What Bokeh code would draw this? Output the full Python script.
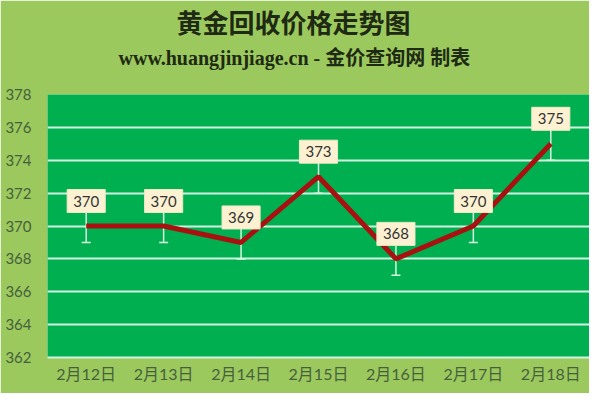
from bokeh.plotting import figure
from bokeh.models import FactorRange, Range1d, ColumnDataSource, Whisker, TeeHead, Title, FixedTicker
from bokeh.core.properties import value
from bokeh.embed import file_html
from bokeh.resources import INLINE

dates = ["2月12日", "2月13日", "2月14日", "2月15日", "2月16日", "2月17日", "2月18日"]
prices = [370, 370, 369, 373, 368, 370, 375]
err = [1, 1, 1, 1, 1, 1, 1]
y_ticks = [362, 364, 366, 368, 370, 372, 374, 376, 378]
title_text = "黄金回收价格走势图"
subtitle_text = "www.huangjinjiage.cn - 金价查询网 制表"

src = ColumnDataSource(dict(
    x=dates, y=prices,
    upper=[v + e for v, e in zip(prices, err)],
    lower=[v - e for v, e in zip(prices, err)],
    lab=[str(v) for v in prices],
))

p = figure(width=589, height=393, x_range=FactorRange(*dates), y_range=Range1d(362, 378),
           output_backend="svg", toolbar_location=None,
           min_border_left=47, min_border_right=0, min_border_top=89, min_border_bottom=36)
p.background_fill_color = "#00B050"
p.border_fill_color = "#9CC95E"
p.outline_line_color = None

# grid
p.xgrid.grid_line_color = None
p.ygrid.grid_line_color = "#D2F3DF"
p.ygrid.grid_line_width = 2
p.yaxis.ticker = FixedTicker(ticks=y_ticks)

# axes
for ax in (p.xaxis, p.yaxis):
    ax.major_tick_line_color = None
    ax.minor_tick_line_color = None
    ax.major_label_text_color = "#46603C"
    ax.major_label_text_font = "Lato, Noto Sans CJK SC"
p.yaxis.major_label_text_font_size = "15px"
p.xaxis.major_label_text_font_size = "16px"
p.yaxis.axis_line_color = None
p.yaxis.major_label_standoff = 10
p.xaxis.axis_line_color = "#D2F3DF"
p.xaxis.axis_line_width = 2
p.xaxis.major_label_standoff = 0

# error bars
w = Whisker(source=src, base="x", upper="upper", lower="lower",
            line_color="#D8F6E2", line_width=1.5,
            upper_head=TeeHead(size=9, line_color="#D8F6E2", line_width=1.5),
            lower_head=TeeHead(size=9, line_color="#D8F6E2", line_width=1.5))
p.add_layout(w)

# line
p.line("x", "y", source=src, line_color="#A8110F", line_width=5)

# value labels
p.text("x", "y", text="lab", source=src, y_offset=-25,
       text_align="center", text_baseline="middle",
       text_font=value("Lato"), text_font_size="15px", text_color="#333333",
       background_fill_color="#FCF2D2", border_line_color="#F0E6C8",
       padding=6)

# titles (stacked outward from the frame: spacer, subtitle, title)
p.add_layout(Title(text=" ", text_font_size="17px", standoff=0), "above")
p.add_layout(Title(text=subtitle_text, align="left", offset=71,
                   text_font="Liberation Serif, Noto Sans CJK SC", text_font_style="bold",
                   text_font_size="20px", text_color="#1E2A14", standoff=10,
                   text_line_height=0.8), "above")
p.add_layout(Title(text=title_text, align="left", offset=129,
                   text_font="Noto Sans CJK SC", text_font_style="bold",
                   text_font_size="26px", text_color="#1E2A14", standoff=0,
                   text_line_height=0.8), "above")

open("out.html", "w").write(file_html(p, INLINE))
